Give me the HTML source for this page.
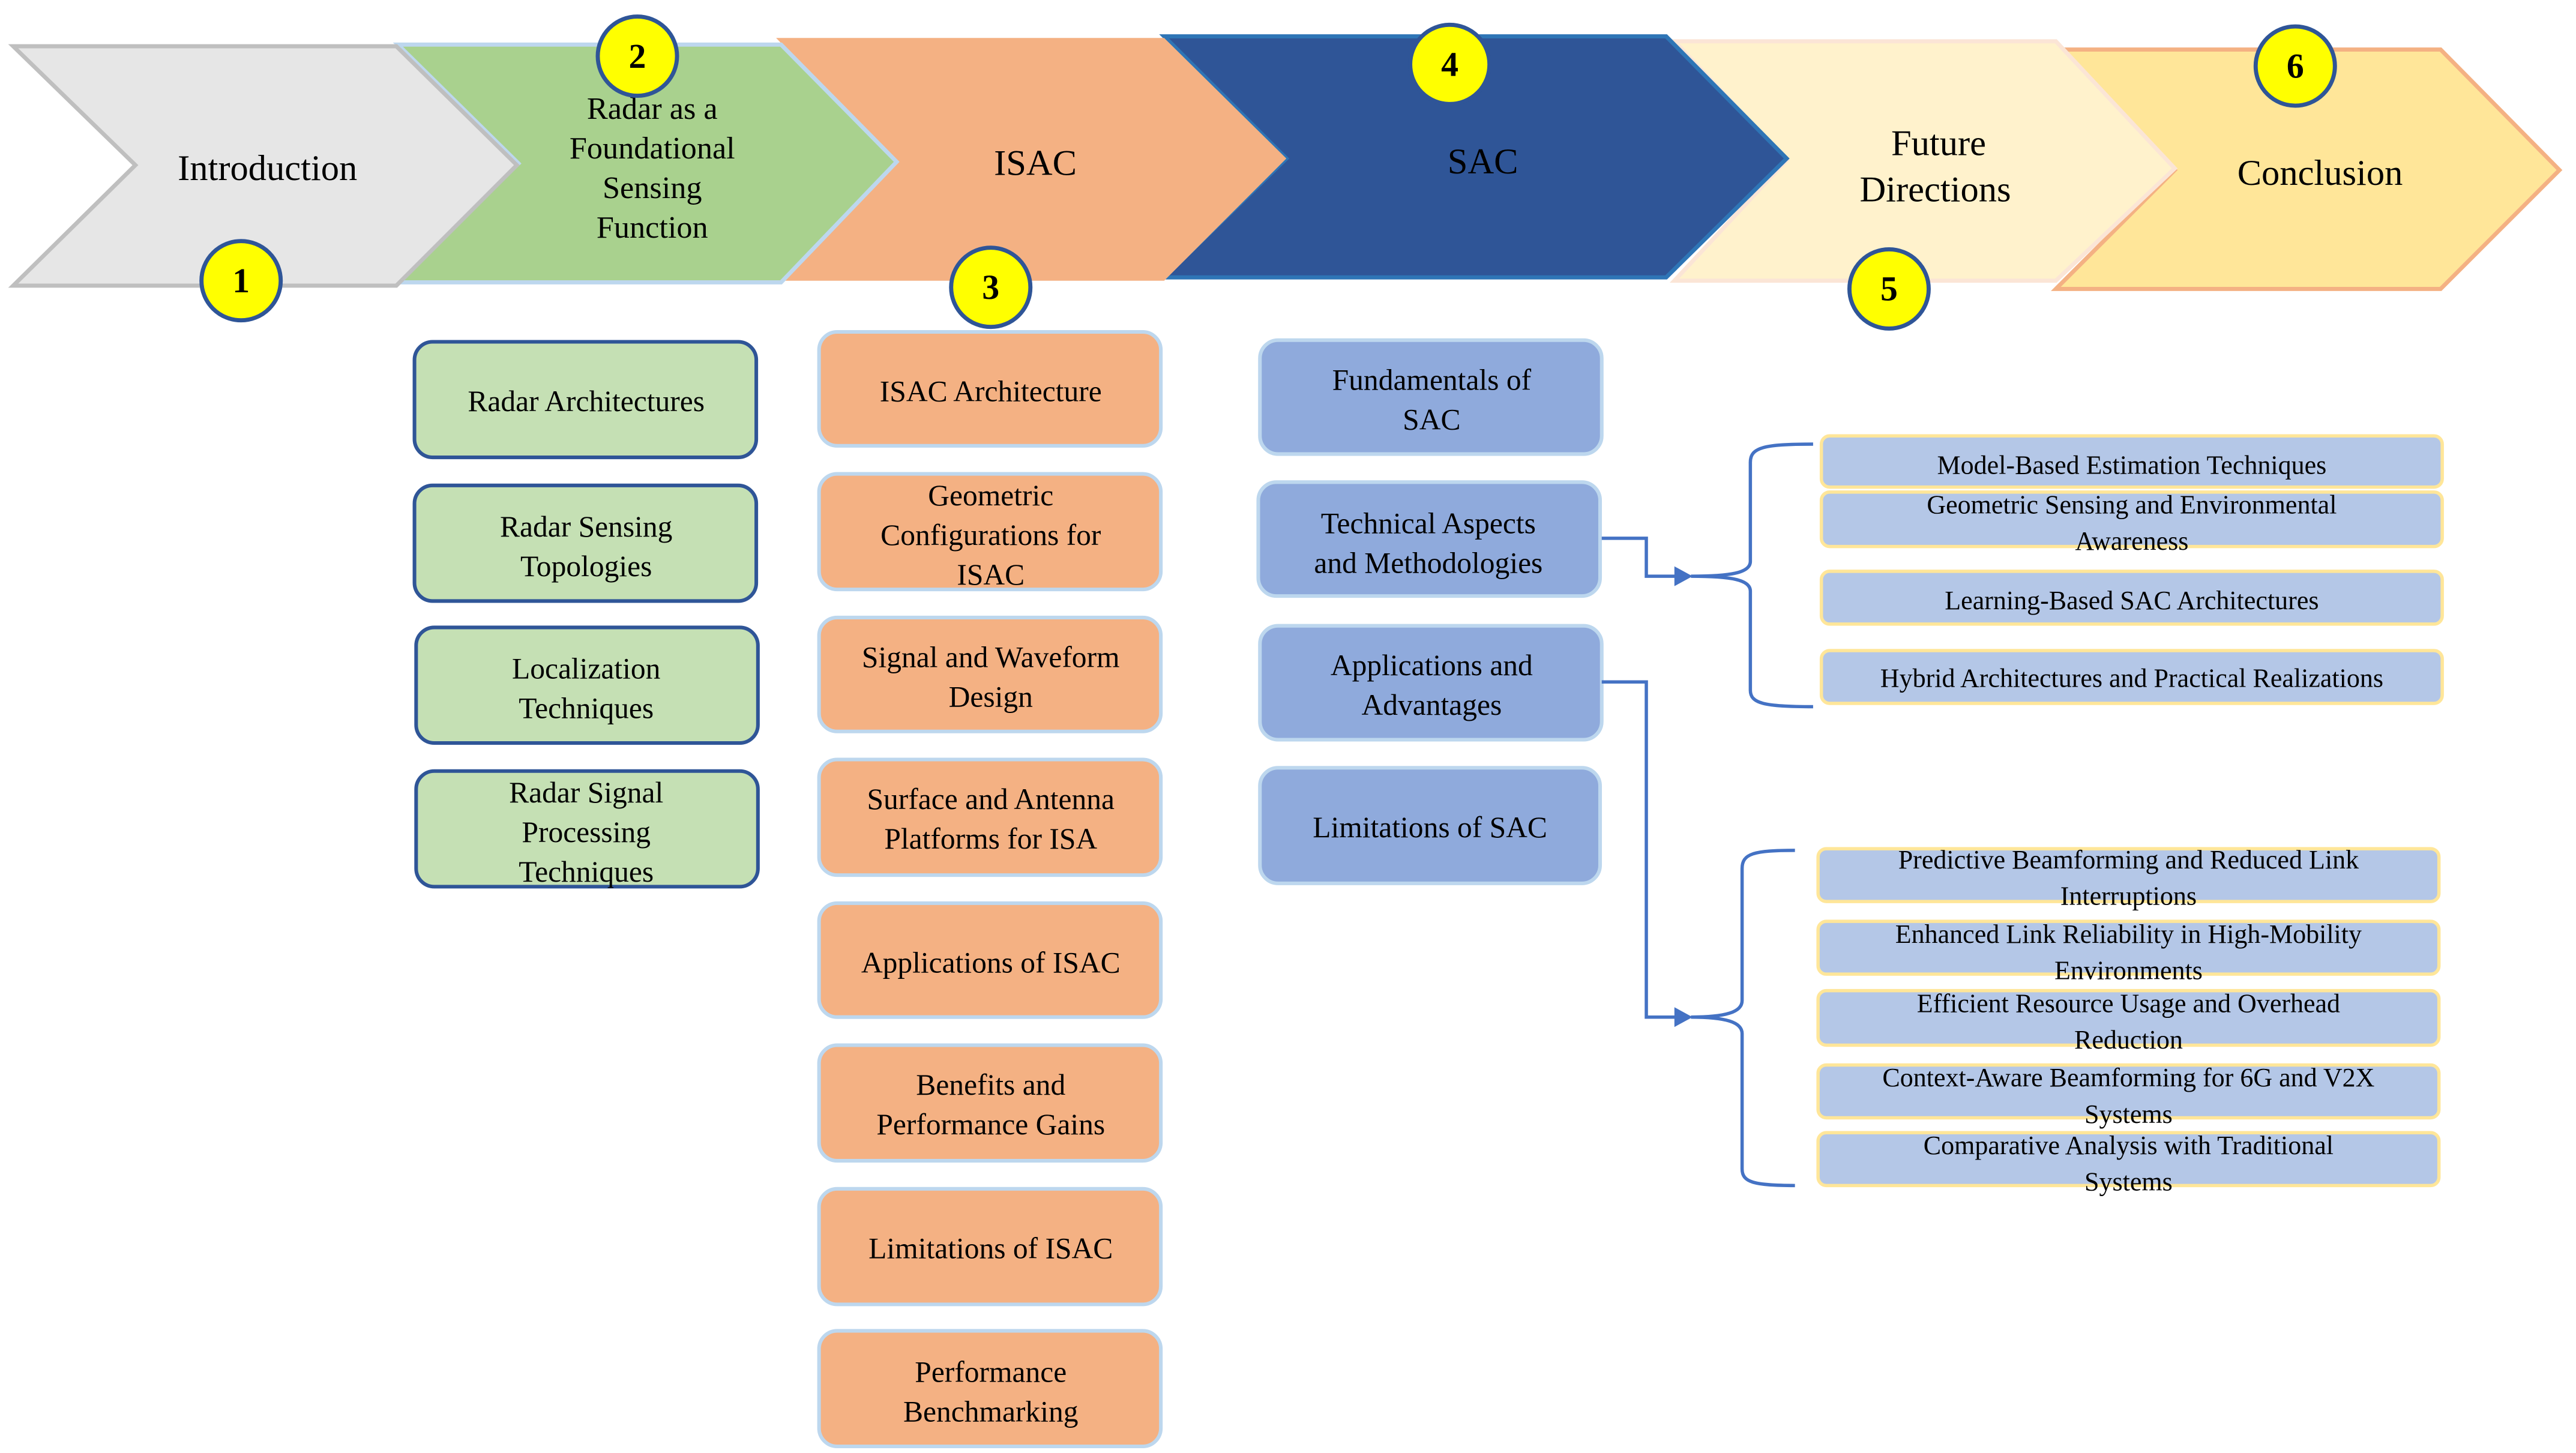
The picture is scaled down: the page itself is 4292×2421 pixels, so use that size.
<!DOCTYPE html>
<html><head><meta charset="utf-8"><style>html,body{margin:0;padding:0;background:#fff}svg{display:block}text{font-family:"Liberation Serif",serif;fill:#000}</style></head><body>
<svg width="4292" height="2421" viewBox="0 0 1560 880" preserveAspectRatio="none" xmlns="http://www.w3.org/2000/svg">
<rect width="1560" height="880" fill="#fff"/>
<!-- chevrons -->
<polygon points="1245,30 1478,30 1550,103 1478,175 1245,175 1317,103" fill="#ffe699" stroke="#f4b183" stroke-width="2.5"/>
<polygon points="1014,25 1245,25 1317,102 1245,170 1014,170 1082,97" fill="#fff2cc" stroke="#fbe5d6" stroke-width="2.5"/>
<polygon points="705,22 1009,22 1082,96 1009,168 705,168 779,96" fill="#2f5597" stroke="#2e75b6" stroke-width="2.5"/>
<polygon points="470,23 705,23 779,96 705,170 470,170 542,97" fill="#f4b183"/>
<polygon points="241,27 473,27 543,98 473,171 241,171 314,99" fill="#a9d18e" stroke="#bdd7ee" stroke-width="2.5"/>
<polygon points="8,28 240,28 313,100 240,173 8,173 82,100" fill="#e6e6e6" stroke="#bfbfbf" stroke-width="2.5"/>
<g font-size="22" text-anchor="middle">
<text x="162" y="109">Introduction</text>
<text x="627" y="106">ISAC</text>
<text x="898" y="105">SAC</text>
<text x="1174" y="94">Future</text>
<text x="1172" y="122">Directions</text>
<text x="1405" y="112">Conclusion</text>
</g>
<g font-size="19" text-anchor="middle">
<text x="395" y="72">Radar as a</text>
<text x="395" y="96">Foundational</text>
<text x="395" y="120">Sensing</text>
<text x="395" y="144">Function</text>
</g>
<!-- circles -->
<g fill="#ffff00" stroke="#2f5597" stroke-width="2.5">
<circle cx="146" cy="170" r="24"/><circle cx="386" cy="34" r="24"/><circle cx="600" cy="174" r="24"/>
<circle cx="878" cy="39" r="24"/><circle cx="1144" cy="175" r="24"/><circle cx="1390" cy="40" r="24"/>
</g>
<g font-size="21" font-weight="bold" text-anchor="middle">
<text x="146" y="177">1</text><text x="386" y="41">2</text><text x="600" y="181">3</text>
<text x="878" y="46">4</text><text x="1144" y="182">5</text><text x="1390" y="47">6</text>
</g>
<!-- green boxes -->
<g fill="#c5e0b4" stroke="#2f5597" stroke-width="2.2">
<rect x="251" y="207" width="207" height="70" rx="11"/>
<rect x="251" y="294" width="207" height="70" rx="11"/>
<rect x="252" y="380" width="207" height="70" rx="11"/>
<rect x="252" y="467" width="207" height="70" rx="11"/>
</g>
<g font-size="18" text-anchor="middle">
<text x="355" y="249">Radar Architectures</text>
<text x="355" y="325">Radar Sensing</text><text x="355" y="349">Topologies</text>
<text x="355" y="411">Localization</text><text x="355" y="435">Techniques</text>
<text x="355" y="486">Radar Signal</text><text x="355" y="510">Processing</text><text x="355" y="534">Techniques</text>
</g>
<!-- orange boxes -->
<g fill="#f4b183" stroke="#bdd7ee" stroke-width="2.2">
<rect x="496" y="201" width="207" height="69" rx="11"/>
<rect x="496" y="287" width="207" height="70" rx="11"/>
<rect x="496" y="374" width="207" height="69" rx="11"/>
<rect x="496" y="460" width="207" height="70" rx="11"/>
<rect x="496" y="547" width="207" height="69" rx="11"/>
<rect x="496" y="633" width="207" height="70" rx="11"/>
<rect x="496" y="720" width="207" height="70" rx="11"/>
<rect x="496" y="806" width="207" height="70" rx="11"/>
</g>
<g font-size="18" text-anchor="middle">
<text x="600" y="243">ISAC Architecture</text>
<text x="600" y="306">Geometric</text><text x="600" y="330">Configurations for</text><text x="600" y="354">ISAC</text>
<text x="600" y="404">Signal and Waveform</text><text x="600" y="428">Design</text>
<text x="600" y="490">Surface and Antenna</text><text x="600" y="514">Platforms for ISA</text>
<text x="600" y="589">Applications of ISAC</text>
<text x="600" y="663">Benefits and</text><text x="600" y="687">Performance Gains</text>
<text x="600" y="762">Limitations of ISAC</text>
<text x="600" y="837">Performance</text><text x="600" y="861">Benchmarking</text>
</g>
<!-- blue boxes -->
<g fill="#8faadc" stroke="#bdd7ee" stroke-width="2.2">
<rect x="763" y="206" width="207" height="69" rx="11"/>
<rect x="762" y="292" width="207" height="69" rx="11"/>
<rect x="763" y="379" width="207" height="69" rx="11"/>
<rect x="763" y="465" width="206" height="70" rx="11"/>
</g>
<g font-size="18" text-anchor="middle">
<text x="867" y="236">Fundamentals of</text><text x="867" y="260">SAC</text>
<text x="865" y="323">Technical Aspects</text><text x="865" y="347">and Methodologies</text>
<text x="867" y="409">Applications and</text><text x="867" y="433">Advantages</text>
<text x="866" y="507">Limitations of SAC</text>
</g>
<!-- connectors -->
<g fill="none" stroke="#4472c4" stroke-width="2">
<polyline points="970,326 997,326 997,349 1016,349"/>
<polyline points="970,413 997,413 997,616 1016,616"/>
<path d="M1098,269 C1068,269 1060,271 1060,280 L1060,340 C1060,347 1048,349 1024,349 C1048,349 1060,351 1060,358 L1060,418 C1060,426 1068,428 1098,428"/>
<path d="M1087,515 C1062,515 1055,517 1055,526 L1055,606 C1055,613 1045,616 1024,616 C1045,616 1055,619 1055,626 L1055,708 C1055,716 1062,718 1087,718"/>
</g>
<polygon points="1014,343 1025,349 1014,355" fill="#4472c4"/>
<polygon points="1014,610 1025,616 1014,622" fill="#4472c4"/>
<!-- right list boxes -->
<g fill="#b4c7e7" stroke="#ffe699" stroke-width="2">
<rect x="1103" y="264" width="376" height="31" rx="5"/>
<rect x="1103" y="298" width="376" height="33" rx="5"/>
<rect x="1103" y="346" width="376" height="32" rx="5"/>
<rect x="1103" y="394" width="376" height="32" rx="5"/>
<rect x="1101" y="514" width="376" height="32" rx="5"/>
<rect x="1101" y="558" width="376" height="32" rx="5"/>
<rect x="1101" y="600" width="376" height="33" rx="5"/>
<rect x="1101" y="645" width="376" height="32" rx="5"/>
<rect x="1101" y="686" width="376" height="32" rx="5"/>
</g>
<g font-size="16" text-anchor="middle">
<text x="1291" y="287">Model-Based Estimation Techniques</text>
<text x="1291" y="311">Geometric Sensing and Environmental</text><text x="1291" y="333">Awareness</text>
<text x="1291" y="369">Learning-Based SAC Architectures</text>
<text x="1291" y="416">Hybrid Architectures and Practical Realizations</text>
<text x="1289" y="526">Predictive Beamforming and Reduced Link</text><text x="1289" y="548">Interruptions</text>
<text x="1289" y="571">Enhanced Link Reliability in High-Mobility</text><text x="1289" y="593">Environments</text>
<text x="1289" y="613">Efficient Resource Usage and Overhead</text><text x="1289" y="635">Reduction</text>
<text x="1289" y="658">Context-Aware Beamforming for 6G and V2X</text><text x="1289" y="680">Systems</text>
<text x="1289" y="699">Comparative Analysis with Traditional</text><text x="1289" y="721">Systems</text>
</g>
</svg>
</body></html>
